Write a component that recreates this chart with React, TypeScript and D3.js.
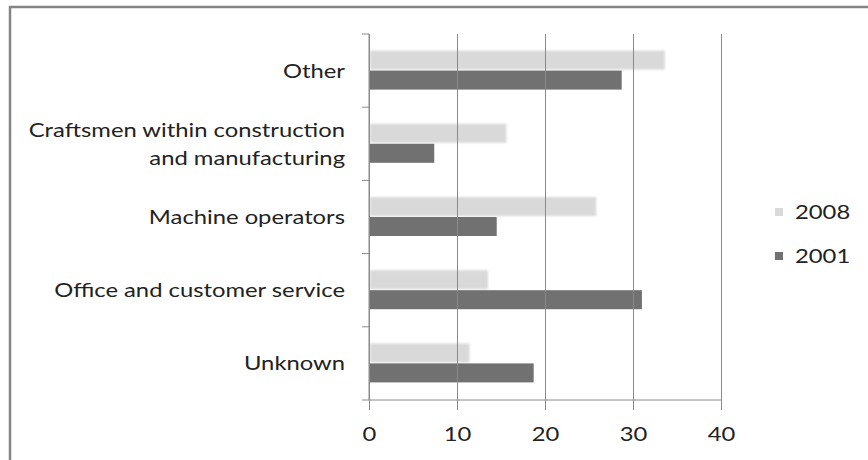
import React, { useEffect, useRef } from 'react';
import * as d3 from 'd3';

const width = 868;
const height = 460;

const categories = [
  'Other',
  'Craftsmen within construction|and manufacturing',
  'Machine operators',
  'Office and customer service',
  'Unknown',
];
const seriesNames = ['2008', '2001'];
const values2008 = [33.5, 15.5, 25.7, 13.4, 11.3];
const values2001 = [28.6, 7.3, 14.4, 30.9, 18.6];
const xTicks = [0, 10, 20, 30, 40];
const colors = ['#d9d9d9', '#717171'];

const plot = { left: 369, right: 721, top: 34, bottom: 400 };
const font = 'Lato, "Noto Sans", sans-serif';
const fontSize = 20;
const stretch = 1.19; // text in the picture is a bit wider than Lato

const App = () => {
  const xAxisRef = useRef(null);
  const yAxisRef = useRef(null);
  const barsRef = useRef(null);
  const legendRef = useRef(null);

  const x = d3.scaleLinear().domain([0, 40]).range([plot.left, plot.right]);
  const y = d3
    .scaleBand()
    .domain(categories)
    .range([plot.top, plot.bottom])
    .paddingInner(0)
    .paddingOuter(0);
  const bandH = y.bandwidth();
  const sub = d3
    .scaleBand()
    .domain(seriesNames)
    .range([(bandH - 40) / 2, (bandH + 40) / 2]);

  useEffect(() => {
    // x axis with gridlines
    const xg = d3.select(xAxisRef.current);
    xg.selectAll('*').remove();
    xg.call(d3.axisBottom(x).tickValues(xTicks).tickSize(10).tickPadding(8))
      .call((g) => g.select('.domain').remove())
      .call((g) => g.selectAll('.tick line').attr('stroke', '#8a8a8a'))
      .call((g) =>
        g
          .selectAll('.tick')
          .append('line')
          .attr('y1', 0)
          .attr('y2', -(plot.bottom - plot.top))
          .attr('stroke', '#8a8a8a')
      )
      .call((g) =>
        g
          .selectAll('.tick text')
          .attr('y', 0)
          .attr('dy', 0)
          .attr('font-size', fontSize)
          .attr('font-family', font)
          .attr('fill', '#222')
          .attr('transform', `translate(0,41) scale(${stretch},1)`)
      );
    xg.append('line')
      .attr('x1', plot.left - 7)
      .attr('x2', plot.right)
      .attr('y1', 0)
      .attr('y2', 0)
      .attr('stroke', '#8a8a8a');

    // category axis
    const yg = d3.select(yAxisRef.current);
    yg.selectAll('*').remove();
    yg.append('line')
      .attr('x1', plot.left)
      .attr('x2', plot.left)
      .attr('y1', plot.top)
      .attr('y2', plot.bottom)
      .attr('stroke', '#8a8a8a');
    yg.selectAll('.cat-tick')
      .data(categories)
      .join('line')
      .attr('class', 'cat-tick')
      .attr('x1', plot.left - 7)
      .attr('x2', plot.left)
      .attr('y1', (d) => y(d))
      .attr('y2', (d) => y(d))
      .attr('stroke', '#8a8a8a');
    yg.selectAll('.cat-label')
      .data(categories)
      .join('text')
      .attr('class', 'cat-label')
      .attr('text-anchor', 'end')
      .attr('font-size', fontSize)
      .attr('font-family', font)
      .attr('fill', '#222')
      .attr(
        'transform',
        (d) => `translate(${plot.left - 24},${y(d) + bandH / 2}) scale(${stretch},1)`
      )
      .each(function (d) {
        const lines = d.split('|');
        const lh = 28;
        d3.select(this)
          .selectAll('tspan')
          .data(lines)
          .join('tspan')
          .attr('x', 0)
          .attr('y', (_, i) => (i - (lines.length - 1) / 2) * lh)
          .attr('dy', '0.35em')
          .text((t) => t);
      });

    // bars
    const bg = d3.select(barsRef.current);
    bg.selectAll('*').remove();
    const rows = categories.map((c, i) => ({
      c,
      vals: [
        { s: '2008', v: values2008[i] },
        { s: '2001', v: values2001[i] },
      ],
    }));
    bg.selectAll('g')
      .data(rows)
      .join('g')
      .attr('transform', (d) => `translate(0,${y(d.c)})`)
      .selectAll('rect')
      .data((d) => d.vals)
      .join('rect')
      .attr('x', x(0) + 1)
      .attr('y', (d) => sub(d.s))
      .attr('height', sub.bandwidth() - 1)
      .attr('width', (d) => x(d.v) - x(0))
      .attr('fill', (d, i) => colors[i])
      .attr('filter', (d, i) => (i === 0 ? 'url(#soft)' : null));

    // legend
    const lg = d3.select(legendRef.current);
    lg.selectAll('*').remove();
    const items = lg
      .selectAll('g')
      .data(seriesNames)
      .join('g')
      .attr('transform', (d, i) => `translate(775,${212 + i * 44})`);
    items
      .append('rect')
      .attr('x', 0)
      .attr('y', -4)
      .attr('width', 8)
      .attr('height', 8)
      .attr('fill', (d, i) => colors[i]);
    items
      .append('text')
      .attr('transform', `translate(20,0) scale(${stretch},1)`)
      .attr('dy', '0.35em')
      .attr('font-size', fontSize)
      .attr('font-family', font)
      .attr('fill', '#222')
      .text((d) => d);
  }, []);

  return (
    <svg
      width={width}
      height={height}
      style={{ position: 'absolute', left: 0, top: 0, background: '#fff' }}
    >
      <defs>
        <filter id="soft" x="-5%" y="-30%" width="110%" height="160%">
          <feGaussianBlur stdDeviation="1.2" />
        </filter>
      </defs>
      <rect
        x={10}
        y={7}
        width={880}
        height={480}
        fill="#fff"
        stroke="#858585"
        strokeWidth={2.5}
      />
      <g ref={barsRef}></g>
      <g ref={yAxisRef}></g>
      <g ref={xAxisRef} transform={`translate(0,${plot.bottom})`}></g>
      <g ref={legendRef}></g>
    </svg>
  );
};

export default App;
